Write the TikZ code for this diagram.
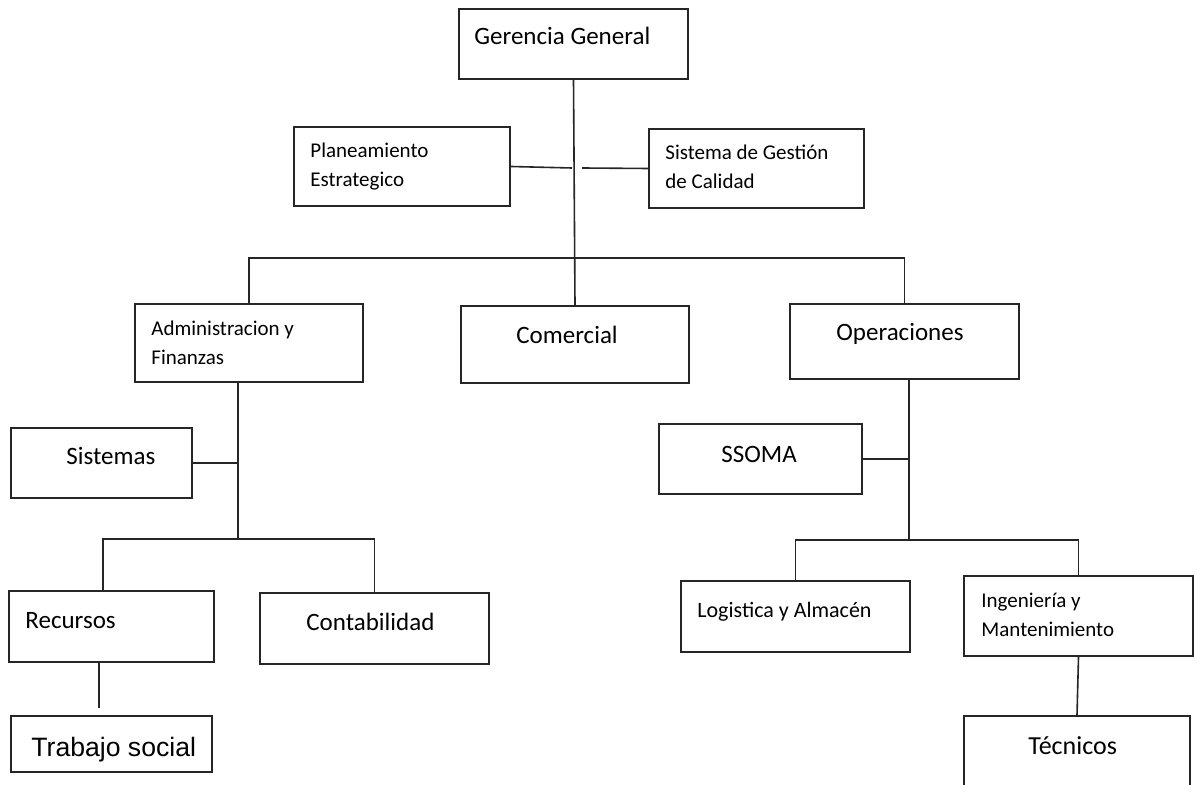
\documentclass[tikz,border=0pt]{standalone}
\usepackage{fontspec}
\setmainfont{Carlito}
\newfontfamily\arialfont{Liberation Sans}
\usetikzlibrary{fit}

\begin{document}
\begin{tikzpicture}[x=0.5pt, y=-0.5pt]
				\tikzstyle{box}=[draw=black!85, line width=1pt, inner sep=0pt]
				\tikzstyle{big}=[font=\fontsize{12.5}{15}\selectfont, inner sep=0pt, anchor=base west]
				\tikzstyle{small}=[font=\fontsize{10.5}{14.5}\selectfont, inner sep=0pt, anchor=base west, align=left]
				\tikzstyle{link}=[draw=black!85, line width=0.8pt]
				\fill[white] (0,0) rectangle (1195,785);
				\useasboundingbox (0,0) rectangle (1195,785);
				\clip (0,0) rectangle (1195,785);
				%Top
				\node[box, fit={(459,9) (688,79)}](gg){};
				\node[big](ggt) at (474,45){Gerencia General};
				\node[box, fit={(294,127) (510,206)}](pe){};
				\node[small](pet) at (310,187){Planeamiento\\Estrategico};
				\node[box, fit={(649,129) (864,208)}](sgc){};
				\node[small](sgct) at (665,189){Sistema de Gestión\\de Calidad};
				%Second Row
				\node[box, fit={(135,304) (363,382)}](af){};
				\node[small](aft) at (151,365){Administracion y\\Finanzas};
				\node[box, fit={(461,306) (689,383)}](com){};
				\node[big](comt) at (516,344){Comercial};
				\node[box, fit={(790,304) (1019,379)}](ops){};
				\node[big](opst) at (836,341){Operaciones};
				%Third Row
				\node[box, fit={(11,428) (192,498)}](sis){};
				\node[big](sist) at (66,465){Sistemas};
				\node[box, fit={(659,424) (862,494)}](ssoma){};
				\node[big](ssomat) at (721,463){SSOMA};
				%Fourth Row
				\node[box, fit={(9,591) (214,662)}](rec){};
				\node[big](rect) at (25,629){Recursos};
				\node[box, fit={(260,593) (489,664)}](cont){};
				\node[big](contt) at (306,631){Contabilidad};
				\node[box, fit={(681,581) (910,652)}](log){};
				\node[small, font=\fontsize{11}{14}\selectfont](logt) at (697,618){Logistica y Almacén};
				\node[box, fit={(964,576) (1193,656)}](ing){};
				\node[small](ingt) at (981,637){Ingeniería y\\Mantenimiento};
				%Fifth Row
				\node[box, fit={(11,716) (212,772)}](ts){};
				\node[big, font=\arialfont\fontsize{13.3}{15}\selectfont](tst) at (31,757){Trabajo social};
				\node[box, fit={(964,716) (1190,800)}](tec){};
				\node[big, font=\fontsize{13}{15}\selectfont](tect) at (1028,755){Técnicos};
				%Connectors
				\coordinate (trunkL) at (572,168);
				\coordinate (trunkR) at (582,168);
				\coordinate (afout) at (238,382);
				\coordinate (afbus) at (238,539);
				\coordinate (recin) at (103,591);
				\coordinate (recout) at (99,662);
				\coordinate (tsend) at (99,708);
				\coordinate (opsout) at (909,379);
				\coordinate (opsbus) at (909,540);
				\draw[link] (gg.south) -- (com.north);
				\draw[link] (pe.east) -- (trunkL);
				\draw[link] (trunkR) -- (sgc.west);
				\draw[link] (af.north) -- ++(0,-45) -| (ops.north);
				\draw[link] (afout) -- (afbus);
				\draw[link] (sis.east) -- (sis.east -| afout);
				\draw[link] (recin) |- (afbus) -| (cont.north);
				\draw[link] (recout) -- (tsend);
				\draw[link] (opsout) -- (opsbus);
				\draw[link] (ssoma.east) -- (ssoma.east -| opsout);
				\draw[link] (log.north) |- (opsbus) -| (ing.north);
				\draw[link] (ing.south) -- (tec.north);
\end{tikzpicture}
\end{document}
